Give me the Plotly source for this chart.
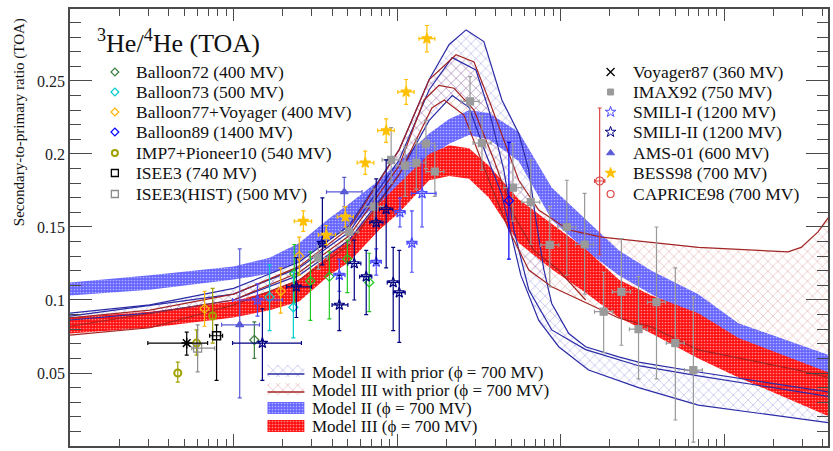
import plotly.graph_objects as go

# ---------------- model bands (x: kinetic energy per nucleon, GeV/n) ----------------
band_E = [0.01, 0.0308, 0.1, 0.166, 0.252, 0.385, 0.509, 0.776, 1.03, 1.57, 2.08, 2.75,
          3.64, 5.54, 8.81, 14.2, 22.6, 35.9, 69.4, 122, 443]
modelII_hi = [0.112, 0.117, 0.123, 0.129, 0.139, 0.156, 0.166, 0.182, 0.195, 0.214, 0.224, 0.230,
              0.228, 0.215, 0.177, 0.155, 0.134, 0.120, 0.104, 0.084, 0.062]
modelII_lo = [0.103, 0.107, 0.114, 0.118, 0.126, 0.141, 0.150, 0.166, 0.178, 0.198, 0.207, 0.213,
              0.210, 0.195, 0.155, 0.134, 0.117, 0.104, 0.088, 0.070, 0.046]
modelIII_hi = [0.088, 0.092, 0.099, 0.106, 0.114, 0.131, 0.142, 0.166, 0.180, 0.200, 0.206, 0.204,
               0.192, 0.169, 0.152, 0.135, 0.114, 0.103, 0.091, 0.074, 0.050]
modelIII_lo = [0.077, 0.081, 0.088, 0.093, 0.099, 0.117, 0.126, 0.148, 0.160, 0.182, 0.185, 0.183,
               0.170, 0.139, 0.121, 0.105, 0.088, 0.077, 0.060, 0.047, 0.020]

# Model II with prior (hatched)
p2_hi_E = [0.01, 0.0308, 0.1, 0.252, 0.509, 1.03, 1.57, 2.08, 2.64, 3.39, 4.37, 5.54, 6.38, 7.05,
           7.88, 8.81, 11.2, 14.2, 22.6, 29.9, 69.4, 431]
p2_hi = [0.091, 0.0966, 0.108, 0.126, 0.151, 0.203, 0.251, 0.275, 0.285, 0.277, 0.237, 0.214, 0.189,
         0.155, 0.121, 0.0976, 0.077, 0.068, 0.061, 0.0575, 0.0507, 0.037]
p2_lo_E = [0.01, 0.0308, 0.1, 0.252, 0.509, 1.03, 1.57, 2.17, 2.75, 3.49, 4.37, 5.02, 5.70, 7.34,
           9.72, 14.8, 29.9, 69.4, 431]
p2_lo = [0.0863, 0.091, 0.100, 0.117, 0.141, 0.186, 0.223, 0.240, 0.232, 0.200, 0.172, 0.143, 0.117,
         0.086, 0.068, 0.052, 0.040, 0.028, 0.016]
p2_mid_E = [0.01, 0.1, 0.252, 0.509, 1.03, 1.57, 2.17, 3.03, 3.64, 4.49, 5.17, 6.38, 8.81, 14.2,
            29.9, 69.4, 431]
p2_mid = [0.089, 0.104, 0.122, 0.1466, 0.196, 0.244, 0.266, 0.2575, 0.230, 0.189, 0.148, 0.107,
          0.0795, 0.066, 0.055, 0.048, 0.034]

# Model III with prior (hatched)
p3_hi_E = [0.01, 0.0308, 0.1, 0.252, 0.509, 1.03, 1.57, 2.29, 2.95, 3.64, 4.49, 5.54, 7.34, 11.2,
           17.8, 69.4, 245, 295, 374, 443]
p3_hi = [0.0877, 0.093, 0.104, 0.123, 0.149, 0.203, 0.251, 0.268, 0.263, 0.237, 0.2096, 0.182,
         0.1616, 0.148, 0.143, 0.136, 0.133, 0.136, 0.1466, 0.158]
p3_lo_E = [0.01, 0.0308, 0.1, 0.252, 0.509, 1.03, 1.63, 1.94, 2.56, 3.64, 4.82, 6.38, 8.81, 14.2,
           22.6, 35.9, 69.4, 282, 443]
p3_lo = [0.076, 0.081, 0.0966, 0.1137, 0.1377, 0.186, 0.2315, 0.237, 0.2267, 0.182, 0.148, 0.1205,
         0.109, 0.098, 0.0877, 0.0815, 0.0658, 0.052, 0.0466]
p3_mid_E = [0.01, 0.1, 0.252, 0.509, 1.03, 1.46, 1.80, 2.23, 2.95, 3.90, 5.17, 6.85, 9.7, 14.2]
p3_mid = [0.082, 0.100, 0.119, 0.144, 0.192, 0.237, 0.247, 0.245, 0.230, 0.196, 0.158, 0.134,
          0.1205, 0.100]

# ---------------- data (E, ratio, ratio_low, ratio_high, E_low, E_high) ----------------
balloon72_E = [0.134]; balloon72_y = [0.0726]; balloon72_lo = [0.060]; balloon72_hi = [0.085]
balloon73_E = [0.166, 0.232]; balloon73_y = [0.102, 0.095]
balloon73_lo = [0.079, 0.074]; balloon73_hi = [0.124, 0.119]
balloon77_E = [0.0665, 0.194, 0.252]; balloon77_y = [0.094, 0.106, 0.130]
balloon77_lo = [0.082, 0.091, 0.117]; balloon77_hi = [0.106, 0.122, 0.143]
balloon89_E = [4.82]; balloon89_y = [0.168]; balloon89_lo = [0.128]; balloon89_hi = [0.208]
imp7_E = [0.0456, 0.0594, 0.0745]; imp7_y = [0.050, 0.0705, 0.089]
imp7_lo = [0.0438, 0.0623, 0.0705]; imp7_hi = [0.0575, 0.0795, 0.108]
isee3_E = [0.0787]; isee3_y = [0.0755]; isee3_lo = [0.045]; isee3_hi = [0.083]
isee3_Elo = [0.0714]; isee3_Ehi = [0.0857]
isee3h_E = [0.0603]; isee3h_y = [0.067]; isee3h_lo = [0.0507]; isee3h_hi = [0.083]
isee3h_Elo = [0.0555]; isee3h_Ehi = [0.0766]
voy87_E = [0.0517]; voy87_y = [0.0705]; voy87_lo = [0.0623]; voy87_hi = [0.078]
voy87_Elo = [0.0299]; voy87_Ehi = [0.0694]
imax_E = [0.330, 0.509, 0.724, 0.919, 1.12, 1.31, 1.50, 1.70, 2.79, 3.30, 5.10, 6.56, 8.57, 10.9,
          14.0, 18.3, 23.5, 29.9, 38.5, 50.2, 64.7]
imax_Elo = [0.291, 0.448, 0.638, 0.81, 0.99, 1.15, 1.32, 1.50, 2.46, 2.91, 4.49, 5.78, 7.55, 9.6,
            12.3, 16.1, 20.7, 26.3, 33.9, 44.2, 57.0]
imax_Ehi = [0.375, 0.578, 0.822, 1.04, 1.27, 1.49, 1.70, 1.93, 3.17, 3.75, 5.79, 7.45, 9.73, 12.4,
            15.9, 20.8, 26.7, 33.9, 43.7, 57.0, 73.4]
imax_y = [0.129, 0.1466, 0.164, 0.196, 0.192, 0.194, 0.207, 0.188, 0.236, 0.2075, 0.177, 0.167,
          0.1377, 0.150, 0.138, 0.092, 0.1055, 0.080, 0.0986, 0.0705, 0.052]
imax_lo = [0.121, 0.139, 0.152, 0.180, 0.171, 0.176, 0.190, 0.171, 0.216, 0.189, 0.154, 0.138,
           0.109, 0.117, 0.104, 0.064, 0.069, 0.046, 0.046, 0.0178, 0.0027]
imax_hi = [0.137, 0.155, 0.176, 0.218, 0.205, 0.210, 0.223, 0.205, 0.253, 0.226, 0.207, 0.196,
           0.164, 0.182, 0.173, 0.119, 0.142, 0.116, 0.150, 0.122, 0.102]
smili2_E = [0.150, 0.242, 0.349, 0.443, 0.547, 0.647, 0.745, 0.857, 0.946, 1.03]
smili2_Elo = [0.0986, 0.211, 0.33, 0.40, 0.50, 0.59, 0.68, 0.78, 0.87, 0.95]
smili2_Ehi = [0.26, 0.299, 0.37, 0.50, 0.60, 0.70, 0.82, 0.94, 1.03, 1.12]
smili2_y = [0.0705, 0.109, 0.139, 0.0966, 0.125, 0.116, 0.153, 0.162, 0.112, 0.105]
smili2_lo = [0.045, 0.088, 0.124, 0.079, 0.100, 0.090, 0.125, 0.122, 0.079, 0.071]
smili2_hi = [0.094, 0.129, 0.170, 0.117, 0.141, 0.134, 0.183, 0.196, 0.136, 0.134]
smili1_E = [0.140, 0.443, 0.745, 1.04, 1.23, 1.42]
smili1_Elo = [0.0986, 0.41, 0.69, 0.97, 1.15, 1.22]
smili1_Ehi = [0.199, 0.48, 0.80, 1.12, 1.32, 1.73]
smili1_y = [0.100, 0.117, 0.126, 0.160, 0.139, 0.173]
smili1_lo = [0.089, 0.106, 0.117, 0.150, 0.119, 0.150]
smili1_hi = [0.111, 0.128, 0.135, 0.170, 0.161, 0.197]
ams_E = [0.109, 0.475]; ams_Elo = [0.0845, 0.37]; ams_Ehi = [0.144, 0.61]
ams_y = [0.083, 0.174]; ams_lo = [0.033, 0.164]; ams_hi = [0.135, 0.184]
green_E = [0.235, 0.295, 0.385, 0.496, 0.675]
green_y = [0.118, 0.113, 0.116, 0.128, 0.112]
green_lo = [0.098, 0.086, 0.087, 0.105, 0.092]
green_hi = [0.138, 0.133, 0.133, 0.141, 0.132]
bess_E = [0.267, 0.369, 0.482, 0.638, 0.857, 1.135, 1.52]
bess_Elo = [0.235, 0.33, 0.43, 0.57, 0.76, 1.01, 1.36]
bess_Ehi = [0.30, 0.42, 0.54, 0.72, 0.96, 1.27, 1.70]
bess_y = [0.154, 0.1445, 0.157, 0.194, 0.216, 0.2425, 0.279]
bess_lo = [0.147, 0.138, 0.150, 0.186, 0.208, 0.234, 0.270]
bess_hi = [0.161, 0.151, 0.164, 0.202, 0.224, 0.251, 0.288]
caprice_E = [17.3]; caprice_Elo = [16.1]; caprice_Ehi = [18.6]
caprice_y = [0.1815]; caprice_lo = [0.131]; caprice_hi = [0.2315]

# legend texts
left_labels = ["Balloon72 (400 MV)", "Balloon73 (500 MV)", "Balloon77+Voyager (400 MV)",
               "Balloon89 (1400 MV)", "IMP7+Pioneer10 (540 MV)", "ISEE3 (740 MV)",
               "ISEE3(HIST) (500 MV)"]
right_labels = ["Voyager87 (360 MV)", "IMAX92 (750 MV)", "SMILI-I (1200 MV)", "SMILI-II (1200 MV)",
                "AMS-01 (600 MV)", "BESS98 (700 MV)", "CAPRICE98 (700 MV)"]
model_labels = ["Model II with prior (\u03d5 = 700 MV)", "Model III with prior (\u03d5 = 700 MV)",
                "Model II (\u03d5 = 700 MV)", "Model III (\u03d5 = 700 MV)"]

SERIF = "Liberation Serif"
BLUE_BAND = "#6666ff"
RED_BAND = "#ff1010"
BLUE_LINE = "#2b2ba6"
RED_LINE = "#a32424"
BLUE_HATCH = "#7c7cd8"
RED_HATCH = "#d27a7a"
HATCH = dict(shape="x", bgcolor="rgba(0,0,0,0)", size=7, solidity=0.2)

fig = go.Figure()


def hatch_fill(Eh, yh, El, yl, col):
    fig.add_trace(go.Scatter(
        x=Eh + El[::-1], y=yh + yl[::-1], mode="lines", fill="toself",
        line=dict(width=0, color="rgba(0,0,0,0)"), fillcolor="rgba(0,0,0,0)",
        fillpattern=dict(HATCH, fgcolor=col),
        hoverinfo="skip", showlegend=False))


def dotted_band(E, yh, yl, col):
    fig.add_trace(go.Scatter(
        x=E + E[::-1], y=yh + yl[::-1], mode="lines", fill="toself",
        line=dict(width=0, color=col), fillcolor=col,
        fillpattern=dict(shape=".", fgcolor="white", bgcolor=col, size=3, solidity=0.25),
        hoverinfo="skip", showlegend=False))


def line(E, y, col):
    fig.add_trace(go.Scatter(x=E, y=y, mode="lines", line=dict(color=col, width=1.2),
                             hoverinfo="skip", showlegend=False))


hatch_fill(p3_hi_E, p3_hi, p3_lo_E, p3_lo, RED_HATCH)
hatch_fill(p2_hi_E, p2_hi, p2_lo_E, p2_lo, BLUE_HATCH)
dotted_band(band_E, modelII_hi, modelII_lo, BLUE_BAND)
dotted_band(band_E, modelIII_hi, modelIII_lo, RED_BAND)
for E, y in [(p2_hi_E, p2_hi), (p2_lo_E, p2_lo), (p2_mid_E, p2_mid)]:
    line(E, y, BLUE_LINE)
for E, y in [(p3_hi_E, p3_hi), (p3_lo_E, p3_lo), (p3_mid_E, p3_mid)]:
    line(E, y, RED_LINE)


def data(E, y, lo, hi, col, sym, size=6, Elo=None, Ehi=None, lw=1.2, barcol=None):
    bc = barcol or col
    ex = None
    if Elo is not None:
        ex = dict(type="data", symmetric=False, array=[h - e for h, e in zip(Ehi, E)],
                  arrayminus=[e - l for e, l in zip(E, Elo)], color=bc, thickness=1.2, width=2)
    fig.add_trace(go.Scatter(
        x=E, y=y, mode="markers",
        marker=dict(symbol=sym, size=size, color=col, line=dict(color=col, width=lw)),
        error_y=dict(type="data", symmetric=False, array=[h - v for h, v in zip(hi, y)],
                     arrayminus=[v - l for v, l in zip(y, lo)], color=bc, thickness=1.2, width=2),
        error_x=ex, hoverinfo="skip", showlegend=False))


C = {"b72": "#3d7d3d", "b73": "#00cccc", "b77": "#ffb400", "b89": "#0000ff", "imp": "#a0a000",
     "isee": "#000000", "iseeh": "#8c8c8c", "voy": "#000000", "imax": "#9a9a9a",
     "sm1": "#4b4bff", "sm2": "#000080", "ams": "#5a5ad8", "bess": "#ffc000", "cap": "#dd4444",
     "green": "#22c822"}

data(imax_E, imax_y, imax_lo, imax_hi, C["imax"], "square", 7, imax_Elo, imax_Ehi)
data(green_E, green_y, green_lo, green_hi, C["green"], "diamond-open", 7)
data(balloon72_E, balloon72_y, balloon72_lo, balloon72_hi, C["b72"], "diamond-open", 7)
data(balloon73_E, balloon73_y, balloon73_lo, balloon73_hi, C["b73"], "diamond-open", 7)
data(balloon77_E, balloon77_y, balloon77_lo, balloon77_hi, C["b77"], "diamond-open", 7)
data(balloon89_E, balloon89_y, balloon89_lo, balloon89_hi, C["b89"], "diamond-open", 7)
data(imp7_E, imp7_y, imp7_lo, imp7_hi, C["imp"], "circle-open", 7, lw=2)
data(ams_E, ams_y, ams_lo, ams_hi, C["ams"], "triangle-up", 7, ams_Elo, ams_Ehi)
data(smili1_E, smili1_y, smili1_lo, smili1_hi, C["sm1"], "star-open", 8, smili1_Elo, smili1_Ehi)
data(smili2_E, smili2_y, smili2_lo, smili2_hi, C["sm2"], "star-open", 8, smili2_Elo, smili2_Ehi)
data(isee3h_E, isee3h_y, isee3h_lo, isee3h_hi, C["iseeh"], "square-open", 8, isee3h_Elo, isee3h_Ehi)
data(isee3_E, isee3_y, isee3_lo, isee3_hi, C["isee"], "square-open", 8, isee3_Elo, isee3_Ehi, lw=1.5)
data(voy87_E, voy87_y, voy87_lo, voy87_hi, C["voy"], "asterisk-open", 9, voy87_Elo, voy87_Ehi, lw=1.5)
data(bess_E, bess_y, bess_lo, bess_hi, C["bess"], "star", 8, bess_Elo, bess_Ehi)
data(caprice_E, caprice_y, caprice_lo, caprice_hi, C["cap"], "circle-open", 8, caprice_Elo, caprice_Ehi)

# ---------------- legends on a pixel overlay axis ----------------
row_y = [72, 92, 112, 132, 153, 173, 194]
left_sty = [(C["b72"], "diamond-open", 6, 1.2), (C["b73"], "diamond-open", 6, 1.2),
            (C["b77"], "diamond-open", 6, 1.2), (C["b89"], "diamond-open", 6, 1.2),
            (C["imp"], "circle-open", 6, 2), (C["isee"], "square-open", 7, 1.3),
            (C["iseeh"], "square-open", 7, 1.3)]
right_sty = [(C["voy"], "x-thin-open", 8, 1.3), (C["imax"], "square", 6, 1),
             (C["sm1"], "star-open", 8, 1), (C["sm2"], "star-open", 8, 1),
             (C["ams"], "triangle-up", 7, 1), (C["bess"], "star", 8, 1),
             (C["cap"], "circle-open", 7, 1.2)]
ann = []
for xs, xt, labels, sty in [(115, 134, left_labels, left_sty), (612, 632, right_labels, right_sty)]:
    for yy, lab, (col, sym, sz, lw) in zip(row_y, labels, sty):
        fig.add_trace(go.Scatter(x=[xs], y=[yy], xaxis="x2", yaxis="y2", mode="markers",
                                 marker=dict(symbol=sym, size=sz, color=col, line=dict(color=col, width=lw)),
                                 hoverinfo="skip", showlegend=False))
        ann.append(dict(x=xt, y=yy, xref="x2", yref="y2", text=lab, showarrow=False, xanchor="left",
                        yanchor="middle", font=dict(family=SERIF, size=17.5, color="#111")))

model_rows = [372, 390, 408, 426]
x0, x1 = 268, 305
# hatched symbols
for yy, hc, lc in [(model_rows[0], BLUE_HATCH, BLUE_LINE), (model_rows[1], RED_HATCH, RED_LINE)]:
    fig.add_trace(go.Scatter(x=[x0, x1, x1, x0, x0], y=[yy - 7, yy - 7, yy + 5, yy + 5, yy - 7],
                             xaxis="x2", yaxis="y2", mode="lines", fill="toself",
                             line=dict(width=0, color="rgba(0,0,0,0)"), fillcolor="rgba(0,0,0,0)",
                             fillpattern=dict(HATCH, fgcolor=hc),
                             hoverinfo="skip", showlegend=False))
    fig.add_trace(go.Scatter(x=[x0, x1], y=[yy + 2, yy + 2], xaxis="x2", yaxis="y2", mode="lines",
                             line=dict(color=lc, width=1.5), hoverinfo="skip", showlegend=False))
for yy, col in [(model_rows[2], BLUE_BAND), (model_rows[3], RED_BAND)]:
    fig.add_trace(go.Scatter(x=[x0, x1, x1, x0, x0], y=[yy - 6, yy - 6, yy + 6, yy + 6, yy - 6],
                             xaxis="x2", yaxis="y2", mode="lines", fill="toself",
                             line=dict(width=0, color=col), fillcolor=col,
                             fillpattern=dict(shape=".", fgcolor="white", bgcolor=col, size=3, solidity=0.25),
                             hoverinfo="skip", showlegend=False))
for yy, lab in zip(model_rows, model_labels):
    ann.append(dict(x=311, y=yy, xref="x2", yref="y2", text=lab, showarrow=False, xanchor="left",
                    yanchor="middle", font=dict(family=SERIF, size=17, color="#111")))

# title and y-axis title
W, H, L, R, T, B = 833, 451, 70, 3, 9, 5
pw, ph = W - L - R, H - T - B
ann.append(dict(x=(95 - L) / pw, y=(H - B - 42) / ph, xref="paper", yref="paper",
                text="<sup>3</sup>He/<sup>4</sup>He (TOA)", showarrow=False, xanchor="left",
                yanchor="middle", font=dict(family=SERIF, size=26, color="#111")))
ann.append(dict(x=(20 - L) / pw, y=(H - B - 122) / ph, xref="paper", yref="paper",
                text="Secondary-to-primary ratio (TOA)", showarrow=False, textangle=-90,
                xanchor="center", yanchor="middle", font=dict(family=SERIF, size=15, color="#111")))

AX = "#4a4a4a"
fig.update_layout(
    width=W, height=H, margin=dict(l=L, r=R, t=T, b=B),
    paper_bgcolor="white", plot_bgcolor="white", showlegend=False,
    annotations=ann,
    xaxis=dict(type="log", range=[-2, 2.634], showgrid=False, zeroline=False, showline=True,
               linecolor=AX, linewidth=1.5, mirror="allticks", ticks="inside", ticklen=12,
               tickcolor=AX, tickwidth=1.2, dtick=1, showticklabels=False,
               minor=dict(ticks="inside", ticklen=7, tickcolor=AX, tickwidth=1, dtick="D1", showgrid=False)),
    yaxis=dict(range=[0, 0.2993], showgrid=False, zeroline=False, showline=True, linecolor=AX,
               linewidth=1.5, mirror="allticks", ticks="inside", ticklen=22, tickcolor=AX,
               tickwidth=1.2, tickvals=[0, 0.05, 0.1, 0.15, 0.2, 0.25],
               ticktext=["0", "0.05", "0.1", "0.15", "0.2", "0.25"],
               tickfont=dict(family=SERIF, size=16, color="#222"),
               minor=dict(ticks="inside", ticklen=11, tickcolor=AX, tickwidth=1, dtick=0.01, showgrid=False)),
    xaxis2=dict(overlaying="x", range=[L, W - R], visible=False),
    yaxis2=dict(overlaying="y", range=[H - B, T], visible=False),
)

fig.write_html("out.html")
